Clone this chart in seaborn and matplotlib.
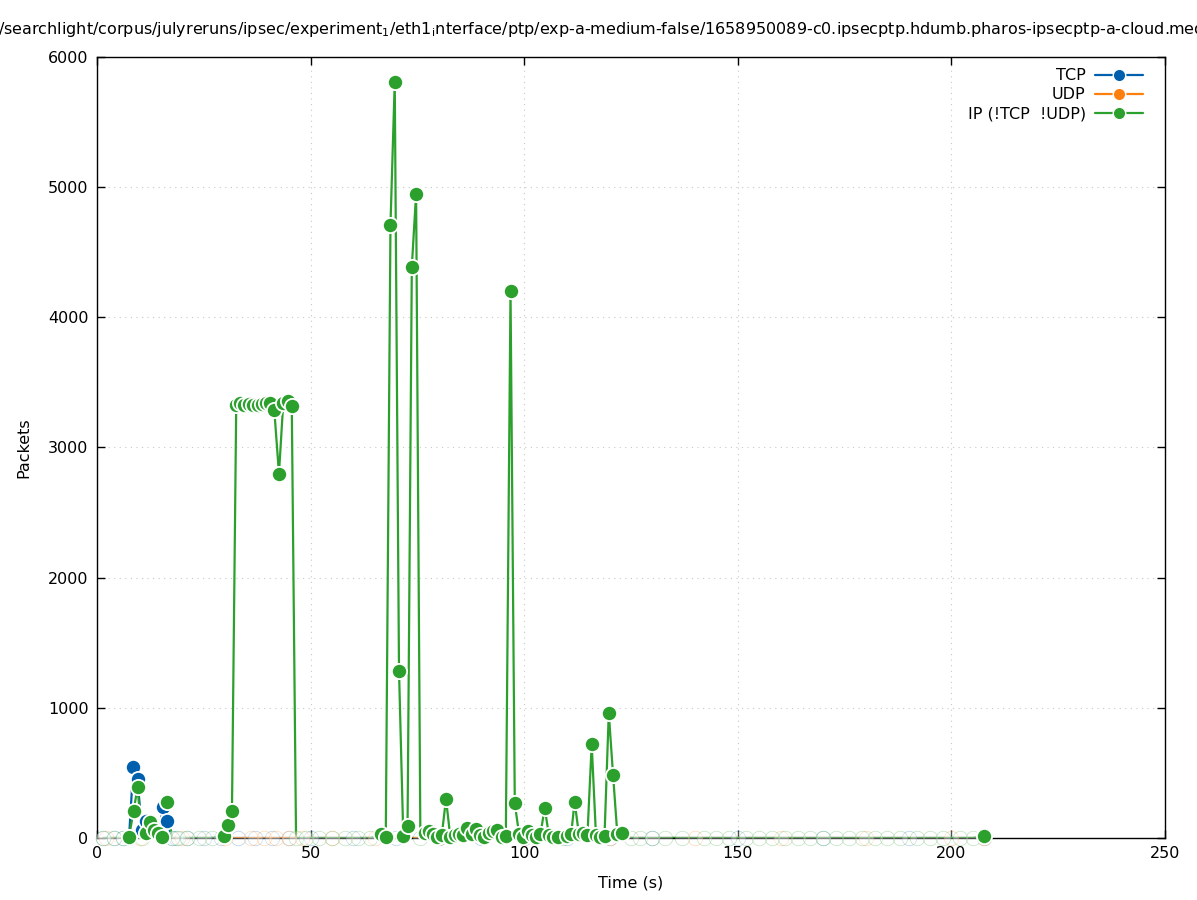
import numpy as np
import pandas as pd
import matplotlib.pyplot as plt
import seaborn as sns

# packet counts per sample
tcp_time = [1.5, 4.0, 6.0, 7.5, 8.5, 9.5, 10.5, 11.5, 12.5, 13.5, 14.5, 15.4, 16.5, 17.5, 18.5,
            21.0, 25.0, 29.0, 33.0, 37.0, 41.0, 45.0, 50.0, 60.0, 70.0, 80.0, 90.0, 100.0,
            110.0, 120.0, 130.0, 150.0, 170.0, 190.0, 207.6]
tcp_packets = [0, 0, 0, 0, 545, 450, 60, 130, 90, 40, 30, 240, 130, 0, 0,
               0, 0, 0, 0, 0, 0, 0, 0, 0, 0, 0, 0, 0,
               0, 0, 0, 0, 0, 0, 0]

udp_time = [2.0, 10.0, 20.0, 30.0, 36.0, 39.0, 42.0, 45.0, 48.0, 55.0, 65.0, 80.0, 100.0,
            120.0, 140.0, 160.0, 180.0, 200.0, 207.6]
udp_packets = [0] * len(udp_time)

ip_time = [1.5, 4.0, 6.0, 7.5, 8.6, 9.5, 10.5, 11.5, 12.4, 13.3, 14.3, 15.3, 16.5, 17.5,
           19.0, 21.0, 24.0, 27.0, 29.7, 30.6, 31.6, 32.6, 33.5, 34.5, 35.5, 36.6, 37.6,
           38.6, 39.5, 40.5, 41.5, 42.6, 43.6, 44.6, 45.6, 46.6, 49.0, 52.0, 55.0, 58.0,
           61.0, 64.0, 66.5, 67.6, 68.7, 69.7, 70.7, 71.7, 72.7, 73.7, 74.7, 75.7, 76.7,
           77.7, 78.7, 79.7, 80.7, 81.7, 82.7, 83.7, 84.7, 85.7, 86.7, 87.7, 88.7, 89.7,
           90.7, 91.7, 92.7, 93.7, 94.7, 95.7, 96.8, 97.8, 98.8, 99.8, 100.8, 101.8, 102.8,
           103.8, 104.8, 105.8, 106.8, 108.0, 109.0, 110.0, 111.0, 111.8, 112.8, 113.8,
           114.8, 115.8, 116.8, 117.8, 118.8, 119.8, 120.8, 121.8, 123.0, 125.0, 127.0,
           130.0, 133.0, 137.0, 142.0, 145.0, 148.0, 152.0, 155.0, 158.0, 161.0, 164.0,
           167.0, 170.0, 173.0, 176.0, 179.0, 182.0, 185.0, 188.0, 192.0, 195.0, 198.0,
           202.0, 205.0, 207.6]
ip_packets = [0, 0, 0, 10, 210, 390, 0, 40, 120, 60, 40, 5, 280, 0,
              0, 0, 0, 0, 15, 100, 210, 3330, 3340, 3330, 3335, 3330, 3330,
              3335, 3340, 3340, 3290, 2800, 3340, 3355, 3320, 0, 0, 0, 0, 0,
              0, 0, 30, 10, 4710, 5810, 1285, 15, 95, 4390, 4950, 0, 40,
              50, 30, 10, 20, 300, 10, 20, 30, 20, 80, 30, 70, 20,
              10, 40, 50, 60, 10, 15, 4200, 265, 30, 10, 50, 20, 10,
              30, 230, 20, 10, 10, 0, 15, 30, 280, 30, 40,
              20, 720, 20, 10, 15, 960, 485, 30, 40, 0, 0,
              0, 0, 0, 0, 0, 0, 0, 0, 0, 0, 0,
              0, 0, 0, 0, 0, 0, 0, 0, 0, 0, 0,
              0, 0, 15]

series_names = ['TCP', 'UDP', 'IP (!TCP  !UDP)']
series_colors = ['#0060ad', '#ff7f0e', '#2ca02c']

title = ('/searchlight/corpus/julyreruns/ipsec/experiment$_1$/eth1$_\\mathrm{i}$nterface/ptp/'
         'exp-a-medium-false/1658950089-c0.ipsecptp.hdumb.pharos-ipsecptp-a-cloud.medium')

df = pd.concat([
    pd.DataFrame({'time': tcp_time, 'packets': tcp_packets, 'series': series_names[0]}),
    pd.DataFrame({'time': udp_time, 'packets': udp_packets, 'series': series_names[1]}),
    pd.DataFrame({'time': ip_time, 'packets': ip_packets, 'series': series_names[2]}),
], ignore_index=True)
palette = dict(zip(series_names, series_colors))

sns.set_theme(style='ticks')
plt.rcParams['font.family'] = ['DejaVu Sans']
plt.rcParams['xtick.direction'] = 'in'
plt.rcParams['ytick.direction'] = 'in'
plt.rcParams['text.color'] = 'black'
plt.rcParams['axes.labelcolor'] = 'black'

fig = plt.figure(figsize=(11.97, 9), dpi=100)
ax = fig.add_axes([0.081, 0.0689, 0.8923, 0.8678])

for i, name in enumerate(series_names):
    sub = df[df['series'] == name]
    sns.lineplot(data=sub, x='time', y='packets', color=palette[name], linewidth=1.6,
                 estimator=None, sort=False, ax=ax, legend=False, zorder=2 + i * 0.01)
    zero = sub[sub['packets'] == 0]
    ax.scatter(zero['time'], zero['packets'], s=110, facecolor='white',
               edgecolor=palette[name], linewidth=0.5, alpha=0.3, zorder=3,
               clip_on=False)
    nz = sub[sub['packets'] > 0]
    sns.scatterplot(data=nz, x='time', y='packets', color=palette[name], s=120,
                    edgecolor='white', linewidth=1.3, ax=ax, legend=False,
                    zorder=3.05 + i * 0.1, clip_on=False)

ax.set_xlim(0, 250)
ax.set_ylim(0, 6000)
ax.set_xticks(np.arange(0, 251, 50))
ax.set_yticks(np.arange(0, 6001, 1000))
ax.tick_params(which='both', top=True, right=True, length=6, width=1, labelsize=11.5,
               colors='black', pad=6)
for s in ax.spines.values():
    s.set_visible(True)
    s.set_linewidth(1)
    s.set_color('black')
ax.grid(True, linestyle=(0, (1, 4)), color='#c8c8c8', linewidth=0.8)
ax.set_xlabel('Time (s)', fontsize=11.5, labelpad=10, color='black')
ax.set_ylabel('Packets', fontsize=11.5, labelpad=12, color='black')

handles = [plt.Line2D([], [], color=c, linewidth=1.6, marker='o', markersize=9,
                      markeredgecolor='white', markeredgewidth=1)
           for c in series_colors]
leg = ax.legend(handles, series_names, loc='upper right', frameon=False, markerfirst=False,
                fontsize=11.5, handlelength=3.0, labelspacing=0.25, borderaxespad=0.3,
                handletextpad=0.6, bbox_to_anchor=(0.99, 1.0))
for t in leg.get_texts():
    t.set_color('black')

fig.text(-0.002, 0.967, title, ha='left', va='center', fontsize=11.5, color='black')

fig.savefig('out.png', dpi=100)
